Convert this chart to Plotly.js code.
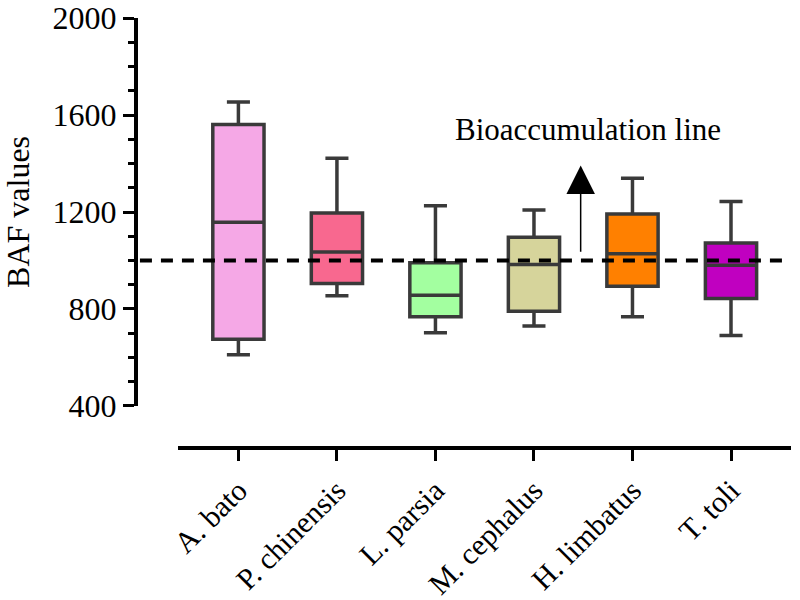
<!DOCTYPE html>
<html>
<head>
<meta charset="utf-8">
<script src="https://cdn.plot.ly/plotly-3.0.1.min.js"></script>
<style>
  html, body { margin: 0; padding: 0; background: #fff; }
  #myDiv { width: 800px; height: 600px; }
</style>
</head>
<body>
<div id="myDiv"></div>
<script>
var species = ['A. bato', 'P. chinensis', 'L. parsia', 'M. cephalus', 'H. limbatus', 'T. toli'];
var lowerWhisker = [611, 854, 702, 730, 768, 690];
var q1Values = [675, 905, 768, 791, 894, 843];
var medians = [1158, 1035, 857, 983, 1028, 980];
var q3Values = [1561, 1196, 991, 1096, 1192, 1072];
var upperWhisker = [1654, 1422, 1226, 1208, 1340, 1244];
var boxColors = ['#f5a8e6', '#f8688f', '#a3ffa0', '#d6d49b', '#ff8000', '#c000c0'];
var yTicks = [400, 800, 1200, 1600, 2000];
var bafLine = 1000;

var serif = 'Liberation Serif, Times New Roman, serif';

var data = [];
for (var i = 0; i < species.length; i++) {
  data.push({
    type: 'box',
    x: [species[i]],
    q1: [q1Values[i]],
    median: [medians[i]],
    q3: [q3Values[i]],
    lowerfence: [lowerWhisker[i]],
    upperfence: [upperWhisker[i]],
    fillcolor: boxColors[i],
    line: { color: '#3a3a3a', width: 3.5 },
    width: 0.52,
    whiskerwidth: 0.45,
    boxpoints: false,
    hoverinfo: 'skip',
    showlegend: false
  });
}

var layout = {
  width: 800,
  height: 600,
  margin: { l: 136, r: 9, t: 18, b: 152 },
  paper_bgcolor: '#fff',
  plot_bgcolor: 'rgba(0,0,0,0)',
  boxmode: 'overlay',
  font: { family: serif, color: '#000', size: 30 },
  xaxis: {
    type: 'category',
    domain: [0.064, 1],
    range: [-0.614, 5.609],
    anchor: 'free',
    position: 0,
    showline: true,
    linecolor: '#000',
    linewidth: 4,
    ticks: 'outside',
    ticklen: 11,
    tickwidth: 3,
    tickcolor: '#000',
    tickangle: -45,
    tickfont: { family: serif, size: 30 },
    showgrid: false,
    zeroline: false
  },
  yaxis: {
    domain: [0.098, 1],
    range: [400, 2001],
    anchor: 'free',
    position: 0,
    tickvals: yTicks,
    ticklabeloverflow: 'allow',
    showline: true,
    linecolor: '#000',
    linewidth: 4,
    ticks: 'outside',
    ticklen: 11,
    tickwidth: 3,
    tickcolor: '#000',
    minor: { dtick: 100, ticks: 'outside', ticklen: 6, tickwidth: 3, tickcolor: '#000', showgrid: false },
    tickfont: { family: serif, size: 32 },
    showgrid: false,
    zeroline: false,
    title: { text: 'BAF values', font: { family: serif, size: 32 }, standoff: 14 }
  },
  shapes: [{
    type: 'line',
    xref: 'paper',
    yref: 'y',
    x0: 0.006,
    x1: 0.999,
    y0: bafLine,
    y1: bafLine,
    line: { color: '#000', width: 4, dash: '12px,9px' }
  }],
  annotations: [
    {
      x: 3.548, y: 1541, xref: 'x', yref: 'y',
      text: 'Bioaccumulation line',
      showarrow: false,
      font: { family: serif, size: 31, color: '#000' },
      xanchor: 'center', yanchor: 'middle'
    },
    {
      x: 3.474, y: 1392, xref: 'x', yref: 'y',
      ax: 3.474, ay: 1030, axref: 'x', ayref: 'y',
      text: '',
      showarrow: true,
      arrowhead: 2,
      arrowsize: 3.8,
      arrowwidth: 1.5,
      arrowcolor: '#000'
    }
  ]
};

Plotly.newPlot('myDiv', data, layout, { displayModeBar: false, staticPlot: true });
</script>
</body>
</html>
